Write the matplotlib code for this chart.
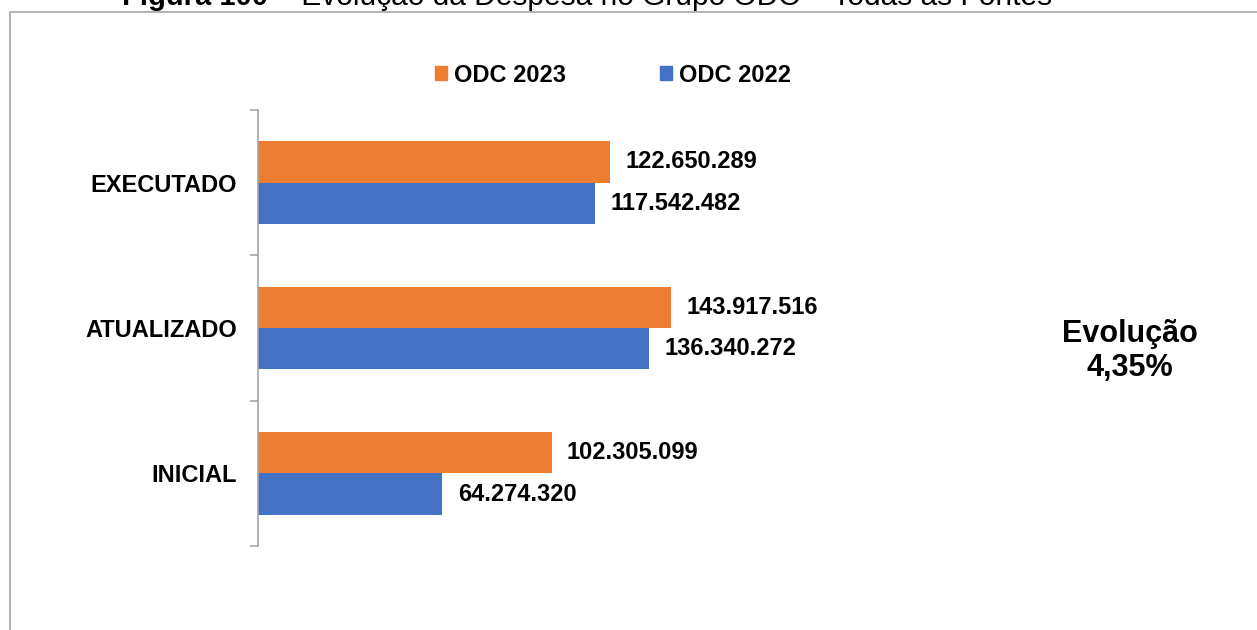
import numpy as np
import matplotlib.pyplot as plt
from matplotlib.patches import Patch, Rectangle

# dados
categorias = ['INICIAL', 'ATUALIZADO', 'EXECUTADO']
odc_2023 = [102305099, 143917516, 122650289]
odc_2022 = [64274320, 136340272, 117542482]
titulo_negrito = 'Figura 100'
titulo_resto = ' – Evolução da Despesa no Grupo ODC – Todas as Fontes'
nota = 'Evolução\n4,35%'

cor_2023 = '#ED7D31'
cor_2022 = '#4472C4'
cinza = '#A6A6A6'

plt.rcParams['font.family'] = ['Liberation Sans', 'DejaVu Sans']

fig = plt.figure(figsize=(12.57, 6.3), dpi=100)
W, H = 1257, 630

# moldura do grafico (cortada na imagem)
fig.patches.append(Rectangle((10 / W, -0.2), 1.2, 1.2 - 12 / H,
                             transform=fig.transFigure, fill=False,
                             edgecolor=cinza, linewidth=1.2))

# titulo cortado no topo
t1 = fig.text(122 / W, 1 - 5 / H, titulo_negrito, fontsize=21, fontweight='bold',
              va='baseline', ha='left')
fig.canvas.draw()
bb = t1.get_window_extent()
fig.text(bb.x1 / W, 1 - 5 / H, titulo_resto, fontsize=21.5, va='baseline', ha='left')

ax = fig.add_axes([258 / W, 84 / H, 942 / W, 436 / H])
y = np.arange(len(categorias))
h = 0.285
b1 = ax.barh(y + h / 2, odc_2023, height=h, color=cor_2023, label='ODC 2023')
b2 = ax.barh(y - h / 2, odc_2022, height=h, color=cor_2022, label='ODC 2022')

ax.set_xlim(0, 942 / 2.87 * 1e6)
ax.set_ylim(-0.5, 2.5)

def fmt(v):
    return f'{v:,}'.replace(',', '.')

for bars, vals in [(b1, odc_2023), (b2, odc_2022)]:
    for r, v in zip(bars, vals):
        ax.annotate(fmt(v), (r.get_width(), r.get_y() + r.get_height() / 2),
                    xytext=(11, 0), textcoords='offset points',
                    ha='left', va='center', fontsize=17, fontweight='bold')

ax.set_yticks(y)
ax.set_yticklabels(categorias, fontsize=17, fontweight='bold')
ax.set_yticks([-0.5, 0.5, 1.5, 2.5], minor=True)
ax.tick_params(axis='y', which='major', length=0, pad=15)
ax.tick_params(axis='y', which='minor', length=5.5, color=cinza, width=1.2)
ax.set_xticks([])
for s in ['top', 'right', 'bottom']:
    ax.spines[s].set_visible(False)
ax.spines['left'].set_color(cinza)
ax.spines['left'].set_linewidth(1.2)

handles = [Patch(color=cor_2023, label='ODC 2023'), Patch(color=cor_2022, label='ODC 2022')]
fig.legend(handles=handles, loc='center', bbox_to_anchor=(613 / W, 1 - 75 / H),
           ncol=2, frameon=False, prop={'weight': 'bold', 'size': 17},
           handlelength=0.5, handleheight=0.5, handletextpad=0.28, columnspacing=4.0)

fig.text(1130 / W, 1 - 351 / H, nota, fontsize=22, fontweight='bold',
         ha='center', va='center', linespacing=1.15)

fig.savefig('out.png', dpi=100)
